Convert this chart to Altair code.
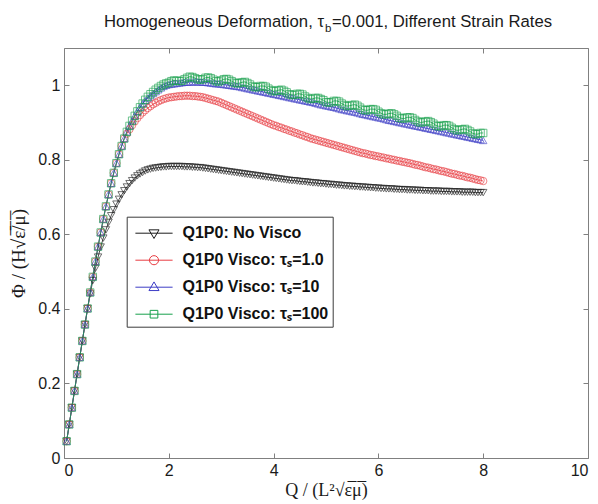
import altair as alt
import pandas as pd

# ---------------- data ----------------
Q = [round(0.05 * (i + 1), 2) for i in range(160)]

rise = [0.045, 0.090, 0.135, 0.180, 0.225, 0.270, 0.314, 0.358, 0.401, 0.444,
        0.486, 0.527, 0.567, 0.605, 0.641, 0.675, 0.707, 0.737, 0.765, 0.791]
rise_late = [0.815, 0.837, 0.857, 0.875, 0.891, 0.905, 0.918, 0.930, 0.941, 0.951]

black = rise[:9] + [
    0.440,
    0.476, 0.509, 0.539, 0.566, 0.590, 0.612, 0.632, 0.650, 0.666, 0.681,
    0.694, 0.706, 0.717, 0.727, 0.736, 0.744, 0.751, 0.757, 0.762, 0.766,
    0.770, 0.773, 0.775, 0.777, 0.778, 0.779, 0.780, 0.781, 0.781, 0.782,
    0.782, 0.782, 0.782, 0.782, 0.782, 0.781, 0.781, 0.781, 0.780, 0.780,
    0.779, 0.779, 0.778, 0.777, 0.776, 0.775, 0.774, 0.773, 0.772, 0.771,
    0.770, 0.769, 0.768, 0.767, 0.766, 0.765, 0.764, 0.763, 0.762, 0.761,
    0.760, 0.759, 0.758, 0.757, 0.756, 0.755, 0.754, 0.753, 0.752, 0.751,
    0.750, 0.749, 0.748, 0.747, 0.746, 0.745, 0.744, 0.744, 0.743, 0.742,
    0.741, 0.741, 0.740, 0.739, 0.738, 0.738, 0.737, 0.736, 0.736, 0.735,
    0.734, 0.734, 0.733, 0.732, 0.732, 0.731, 0.730, 0.730, 0.729, 0.729,
    0.728, 0.728, 0.727, 0.727, 0.726, 0.726, 0.725, 0.725, 0.724, 0.724,
    0.723, 0.723, 0.722, 0.722, 0.722, 0.721, 0.721, 0.720, 0.720, 0.720,
    0.719, 0.719, 0.719, 0.718, 0.718, 0.718, 0.717, 0.717, 0.717, 0.716,
    0.716, 0.716, 0.716, 0.715, 0.715, 0.715, 0.715, 0.714, 0.714, 0.714,
    0.714, 0.713, 0.713, 0.713, 0.713, 0.713, 0.712, 0.712, 0.712, 0.712,
]

red = rise + [
    0.815, 0.837, 0.857, 0.870, 0.882, 0.893, 0.903, 0.912, 0.920, 0.927,
    0.933, 0.939, 0.944, 0.949, 0.953, 0.957, 0.960, 0.963, 0.965, 0.967,
    0.968, 0.969, 0.970, 0.971, 0.971, 0.972, 0.972, 0.972, 0.971, 0.971,
    0.970, 0.969, 0.968, 0.966, 0.964, 0.962, 0.960, 0.958, 0.956, 0.953,
    0.950, 0.947, 0.944, 0.941, 0.938, 0.935, 0.932, 0.929, 0.926, 0.923,
    0.920, 0.917, 0.914, 0.911, 0.908, 0.905, 0.902, 0.899, 0.896, 0.893,
    0.891, 0.888, 0.886, 0.883, 0.881, 0.878, 0.876, 0.873, 0.871, 0.868,
    0.866, 0.863, 0.861, 0.858, 0.856, 0.854, 0.852, 0.850, 0.848, 0.846,
    0.844, 0.842, 0.840, 0.838, 0.836, 0.834, 0.832, 0.830, 0.828, 0.826,
    0.824, 0.822, 0.820, 0.818, 0.817, 0.815, 0.813, 0.812, 0.810, 0.809,
    0.807, 0.806, 0.804, 0.803, 0.801, 0.800, 0.798, 0.797, 0.795, 0.794,
    0.792, 0.791, 0.789, 0.787, 0.786, 0.784, 0.782, 0.780, 0.779, 0.777,
    0.775, 0.774, 0.772, 0.770, 0.769, 0.767, 0.765, 0.763, 0.762, 0.760,
    0.758, 0.757, 0.755, 0.753, 0.752, 0.750, 0.748, 0.746, 0.745, 0.743,
]

blue = rise + rise_late + [
    0.959, 0.966, 0.972, 0.978, 0.983, 0.988, 0.993, 0.997, 1.000, 1.002,
    1.003, 1.004, 1.005, 1.006, 1.007, 1.008, 1.008, 1.009, 1.009, 1.009,
    1.009, 1.009, 1.008, 1.008, 1.007, 1.006, 1.005, 1.004, 1.004, 1.003,
    1.002, 1.001, 1.000, 0.999, 0.998, 0.997, 0.996, 0.994, 0.993, 0.991,
    0.990, 0.988, 0.987, 0.985, 0.984, 0.982, 0.981, 0.979, 0.978, 0.976,
    0.975, 0.973, 0.972, 0.970, 0.969, 0.967, 0.966, 0.964, 0.963, 0.961,
    0.960, 0.958, 0.957, 0.955, 0.954, 0.952, 0.950, 0.948, 0.947, 0.945,
    0.944, 0.942, 0.941, 0.939, 0.937, 0.935, 0.934, 0.932, 0.931, 0.929,
    0.928, 0.926, 0.924, 0.922, 0.921, 0.919, 0.918, 0.916, 0.915, 0.913,
    0.912, 0.910, 0.908, 0.906, 0.905, 0.903, 0.902, 0.900, 0.899, 0.897,
    0.896, 0.894, 0.893, 0.891, 0.890, 0.888, 0.887, 0.885, 0.884, 0.882,
    0.881, 0.879, 0.878, 0.876, 0.875, 0.873, 0.872, 0.870, 0.869, 0.867,
    0.866, 0.864, 0.863, 0.861, 0.860, 0.858, 0.857, 0.855, 0.854, 0.852,
]

green = rise + rise_late + [
    0.961, 0.969, 0.976, 0.982, 0.988, 0.993, 0.998, 1.002, 1.005, 1.007,
    1.011, 1.013, 1.012, 1.011, 1.012, 1.016, 1.020, 1.023, 1.022, 1.019,
    1.016, 1.015, 1.016, 1.020, 1.021, 1.019, 1.015, 1.011, 1.010, 1.013,
    1.016, 1.017, 1.015, 1.011, 1.007, 1.005, 1.006, 1.008, 1.009, 1.006,
    1.002, 0.997, 0.995, 0.995, 0.998, 0.998, 0.996, 0.991, 0.987, 0.984,
    0.985, 0.987, 0.988, 0.985, 0.981, 0.976, 0.974, 0.974, 0.977, 0.977,
    0.975, 0.970, 0.966, 0.963, 0.964, 0.966, 0.966, 0.963, 0.960, 0.955,
    0.954, 0.954, 0.958, 0.958, 0.956, 0.951, 0.947, 0.944, 0.945, 0.947,
    0.948, 0.945, 0.940, 0.935, 0.933, 0.933, 0.936, 0.936, 0.934, 0.929,
    0.925, 0.922, 0.922, 0.924, 0.925, 0.922, 0.918, 0.913, 0.911, 0.911,
    0.914, 0.914, 0.912, 0.907, 0.903, 0.900, 0.901, 0.903, 0.904, 0.901,
    0.897, 0.892, 0.890, 0.890, 0.893, 0.893, 0.891, 0.886, 0.882, 0.879,
    0.880, 0.882, 0.883, 0.880, 0.876, 0.871, 0.869, 0.869, 0.872, 0.872,
]

names = ["Q1P0: No Visco", "Q1P0 Visco: τₛ=1.0", "Q1P0 Visco: τₛ=10", "Q1P0 Visco: τₛ=100"]
colors = ["#1c1c1c", "#e83c42", "#3d3dc6", "#17a04c"]
shapes = ["triangle-down", "circle", "triangle-up", "square"]

x_ticks = [0, 2, 4, 6, 8, 10]
y_ticks = [0, 0.2, 0.4, 0.6, 0.8, 1]

# ---------------- layout ----------------
W, H = 524, 410
GRAY = "#808080"
TXT = "#1a1a1a"

rows = []
for name, vals in zip(names, [black, red, blue, green]):
    for q, v in zip(Q, vals):
        rows.append({"series": name, "Q": q, "Phi": v})
df = pd.DataFrame(rows)

xs = alt.Scale(domain=[0, 10], nice=False, zero=False)
ys = alt.Scale(domain=[0, 1.1], nice=False, zero=False)
col_scale = alt.Scale(domain=names, range=colors)

line_seg = "M-1.55,0H1.55"
leg_paths = [
    line_seg + "M-0.42,-0.28L0.42,-0.28L0,0.44Z",
    line_seg + "M0.38,0A0.38,0.38,0,1,1,-0.38,0A0.38,0.38,0,1,1,0.38,0Z",
    line_seg + "M-0.42,0.28L0.42,0.28L0,-0.44Z",
    line_seg + "M-0.32,-0.32H0.32V0.32H-0.32Z",
]

base = alt.Chart(df)

# lines + inward ticks on the bottom and left edges
lines = base.mark_line(strokeWidth=0.8).encode(
    x=alt.X("Q:Q", scale=xs, axis=alt.Axis(orient="top", offset=-H, values=x_ticks, labels=False,
                                           domain=False, tickSize=5, tickColor=GRAY, grid=False, title=None)),
    y=alt.Y("Phi:Q", scale=ys, axis=alt.Axis(orient="right", offset=-W, values=y_ticks, labels=False,
                                             domain=False, tickSize=5, tickColor=GRAY, grid=False, title=None)),
    color=alt.Color("series:N", scale=col_scale, legend=None),
    detail="series:N",
)

# markers + labelled axes
points = base.mark_point(filled=False, size=55, strokeWidth=0.9).encode(
    x=alt.X("Q:Q", scale=xs, axis=alt.Axis(
        orient="bottom", values=x_ticks, domain=False, ticks=True, tickSize=0, grid=False,
        labelFont="Liberation Sans", labelFontSize=16, labelColor=TXT, labelPadding=4,
        title="Q / (L\u00b2\u221a\u03b5\u0305\u03bc\u0305)", titleFont="Liberation Serif",
        titleFontSize=18, titleFontWeight="normal", titleColor=TXT, titlePadding=3)),
    y=alt.Y("Phi:Q", scale=ys, axis=alt.Axis(
        orient="left", values=y_ticks, format="~g", domain=False, ticks=True, tickSize=0, grid=False,
        labelFont="Liberation Sans", labelFontSize=16, labelColor=TXT, labelPadding=4,
        title="\u03a6 / (H\u221a\u03b5\u0305/\u0305\u03bc\u0305)", titleFont="Liberation Serif",
        titleFontSize=19, titleFontWeight="normal", titleColor=TXT, titlePadding=9)),
    color=alt.Color("series:N", scale=col_scale, legend=None),
    shape=alt.Shape("series:N", scale=alt.Scale(domain=names, range=shapes), legend=None),
)

legend_props = dict(
    orient="none", legendX=62.7, legendY=168.7, title=None, direction="vertical",
    strokeColor="#3a3a3a", fillColor="white", padding=4,
    labelFont="Liberation Sans", labelFontSize=16, labelFontWeight="bold", labelColor="#111111",
    labelLimit=400, symbolSize=576, symbolStrokeWidth=1, symbolOffset=10.8, labelOffset=16,
    rowPadding=6, symbolOpacity=1,
)

# invisible layer: legend + inward ticks on the top and right edges
legend_layer = base.mark_point(opacity=0, filled=False, size=40).encode(
    x=alt.X("Q:Q", scale=xs, axis=alt.Axis(orient="bottom", offset=-H, values=x_ticks, labels=False,
                                           domain=False, tickSize=5, tickColor=GRAY, grid=False, title=None)),
    y=alt.Y("Phi:Q", scale=ys, axis=alt.Axis(orient="left", offset=-W, values=y_ticks, labels=False,
                                             domain=False, tickSize=5, tickColor=GRAY, grid=False, title=None)),
    color=alt.Color("series:N", scale=col_scale, legend=alt.Legend(**legend_props)),
    shape=alt.Shape("series:N", scale=alt.Scale(domain=names, range=leg_paths),
                    legend=alt.Legend(**legend_props)),
)

one = alt.Data(values=[{"k": 1}])
title_font = dict(font="Liberation Sans", fontSize=16.7, color=TXT, baseline="alphabetic")
t1 = alt.Chart(one).mark_text(text="Homogeneous Deformation, τ", align="right", **title_font).encode(
    x=alt.value(260), y=alt.value(-20.7))
t2 = alt.Chart(one).mark_text(text="b", align="left", font="Liberation Sans", fontSize=11.5,
                              color=TXT, baseline="alphabetic").encode(x=alt.value(261), y=alt.value(-16))
t3 = alt.Chart(one).mark_text(text="=0.001, Different Strain Rates", align="left", **title_font).encode(
    x=alt.value(268), y=alt.value(-20.7))

chart = alt.layer(lines, points, legend_layer, t1, t2, t3).resolve_scale(
    color="independent", shape="independent"
).resolve_axis(x="independent", y="independent").properties(
    width=W, height=H,
    autosize=alt.AutoSizeParams(type="none"),
    padding={"left": 64, "top": 48, "right": 10, "bottom": 46},
    background="white",
).configure_view(stroke=GRAY, strokeWidth=1)

chart.save("out.html", embed_options={"renderer": "svg", "actions": False})
